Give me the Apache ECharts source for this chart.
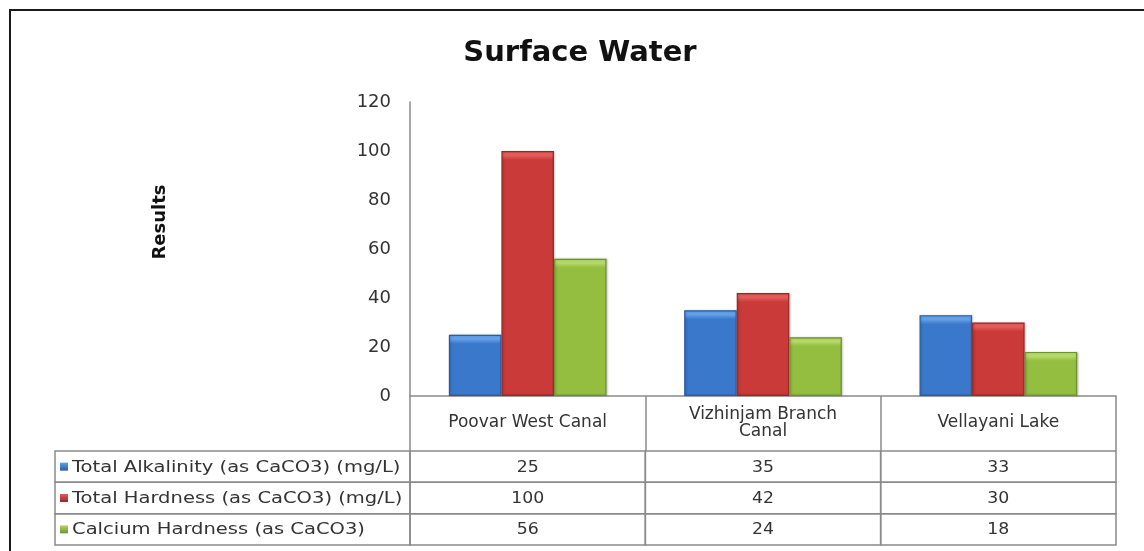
<!DOCTYPE html>
<html>
<head>
<meta charset="utf-8">
<script src="https://cdn.jsdelivr.net/npm/echarts@6/dist/echarts.min.js"></script>
<style>
  html, body { margin: 0; padding: 0; background: #fff; }
  #chart { width: 1144px; height: 551px; }
</style>
</head>
<body>
<div id="chart"></div>
<script>
// Sampling sites along the x axis
const categories = ['Poovar West Canal', 'Vizhinjam Branch\nCanal', 'Vellayani Lake'];
// Parameter names (series / data table rows)
const seriesNames = [
  'Total Alkalinity (as CaCO3) (mg/L)',
  'Total Hardness (as CaCO3) (mg/L)',
  'Calcium Hardness (as CaCO3)'
];
// Measured values per site
const totalAlkalinity = [25, 35, 33];
const totalHardness = [100, 42, 30];
const calciumHardness = [56, 24, 18];
// Value axis ticks
const yTicks = [0, 20, 40, 60, 80, 100, 120];

const seriesValues = [totalAlkalinity, totalHardness, calciumHardness];
const palette = [
  { base: '#3a78cc', light: '#62a0ea', dark: '#2a5d9e' },
  { base: '#c93a38', light: '#e35c5a', dark: '#982826' },
  { base: '#93be40', light: '#b5d868', dark: '#6f9230' }
];

const FONT = 'DejaVu Sans';
const GRID_LINE = '#8a8a8a';
const GRID_TOP = 102, GRID_BOTTOM_Y = 396;
const PX_PER_UNIT = (GRID_BOTTOM_Y - GRID_TOP) / (yTicks[yTicks.length - 1] - yTicks[0]);
const BEVEL_PX = 9;

// Bar fill: soft light bevel at the top fading into a flat body
function barFill(p, v) {
  const h = Math.max(v * PX_PER_UNIT, 1);
  const f = Math.min(BEVEL_PX / h, 0.5);
  return new echarts.graphic.LinearGradient(0, 0, 0, 1, [
    { offset: 0, color: p.light },
    { offset: f * 0.5, color: p.light },
    { offset: f, color: p.base },
    { offset: 1, color: p.base }
  ]);
}

// Data table cells: [column, row, value]
const tableCells = [];
seriesValues.forEach((vals, r) => vals.forEach((v, c) => tableCells.push([c, r, v])));

const chart = echarts.init(document.getElementById('chart'), null, { renderer: 'canvas' });

const barSeries = seriesNames.map((name, i) => ({
  name: name,
  type: 'bar',
  xAxisIndex: 0,
  yAxisIndex: 0,
  data: seriesValues[i].map(v => ({
    value: v,
    itemStyle: { color: barFill(palette[i], v) }
  })),
  barGap: '0%',
  barCategoryGap: '33%',
  itemStyle: {
    borderColor: palette[i].dark,
    borderWidth: 1.2,
    shadowColor: 'rgba(0,0,0,0.2)',
    shadowBlur: 2,
    shadowOffsetX: 1,
    shadowOffsetY: 0
  },
  emphasis: { disabled: true }
}));

const option = {
  backgroundColor: '#ffffff',
  animation: false,
  title: {
    text: 'Surface Water',
    left: 575,
    textAlign: 'center',
    top: 34,
    textStyle: { fontFamily: FONT, fontSize: 29, fontWeight: 'bold', color: '#111' }
  },
  graphic: [
    {
      type: 'rect',
      shape: { x: 10, y: 10, width: 1300, height: 700 },
      style: { fill: 'none', stroke: '#1a1a1a', lineWidth: 2 },
      silent: true
    },
    {
      type: 'text',
      x: 160,
      y: 222,
      rotation: Math.PI / 2,
      style: {
        text: 'Results',
        align: 'center',
        verticalAlign: 'middle',
        font: 'bold 18px ' + FONT,
        fill: '#111'
      },
      silent: true
    }
  ],
  grid: [
    { left: 410, right: 28, top: GRID_TOP, bottom: 551 - GRID_BOTTOM_Y },
    { left: 410, right: 28, top: 451, bottom: 6 }
  ],
  xAxis: [
    {
      type: 'category',
      gridIndex: 0,
      data: categories,
      axisLine: { show: true, lineStyle: { color: GRID_LINE, width: 1.5 } },
      axisTick: { show: true, length: 55, lineStyle: { color: GRID_LINE, width: 1.5 } },
      axisLabel: {
        margin: 27,
        verticalAlign: 'middle',
        fontFamily: FONT,
        fontSize: 17,
        lineHeight: 17,
        color: '#333'
      },
      splitLine: { show: false }
    },
    {
      type: 'category',
      gridIndex: 1,
      data: categories,
      show: false
    }
  ],
  yAxis: [
    {
      type: 'value',
      gridIndex: 0,
      min: yTicks[0],
      max: yTicks[yTicks.length - 1],
      interval: yTicks[1] - yTicks[0],
      axisLine: { show: true, lineStyle: { color: GRID_LINE, width: 1.5 } },
      axisTick: { show: false },
      splitLine: { show: false },
      axisLabel: { margin: 19, fontFamily: FONT, fontSize: 18, color: '#333' }
    },
    {
      type: 'category',
      gridIndex: 1,
      data: seriesNames,
      inverse: true,
      show: false
    }
  ],
  series: barSeries.concat([
    {
      type: 'custom',
      xAxisIndex: 1,
      yAxisIndex: 1,
      data: tableCells,
      encode: { x: 0, y: 1 },
      silent: true,
      renderItem: function (params, api) {
        const c = api.value(0);
        const r = api.value(1);
        const v = api.value(2);
        const pt = api.coord([c, r]);
        const sz = api.size([1, 1]);
        const x0 = pt[0] - sz[0] / 2;
        const y0 = pt[1] - sz[1] / 2;
        const children = [
          {
            type: 'rect',
            shape: { x: x0, y: y0, width: sz[0], height: sz[1] },
            style: { fill: 'none', stroke: GRID_LINE, lineWidth: 1.5 }
          },
          {
            type: 'text',
            x: pt[0],
            y: pt[1] + 1,
            scaleX: 1.08,
            style: {
              text: String(v),
              align: 'center', verticalAlign: 'middle',
              font: '16px ' + FONT, fill: '#333'
            }
          }
        ];
        if (c === 0) {
          const lx = 55;
          const p = palette[r];
          children.push(
            {
              type: 'rect',
              shape: { x: lx, y: y0, width: x0 - lx, height: sz[1] },
              style: { fill: 'none', stroke: GRID_LINE, lineWidth: 1.5 }
            },
            {
              type: 'rect',
              shape: { x: lx + 5, y: pt[1] - 4, width: 8, height: 8 },
              style: {
                fill: new echarts.graphic.LinearGradient(0, 0, 0, 1, [
                  { offset: 0, color: p.light },
                  { offset: 1, color: p.dark }
                ])
              }
            },
            {
              type: 'text',
              x: lx + 17,
              y: pt[1] + 1,
              scaleX: 1.22,
              style: {
                text: seriesNames[r],
                align: 'left', verticalAlign: 'middle',
                font: '16px ' + FONT, fill: '#333'
              }
            }
          );
        }
        return { type: 'group', children: children };
      }
    }
  ])
};

chart.setOption(option);
</script>
</body>
</html>
